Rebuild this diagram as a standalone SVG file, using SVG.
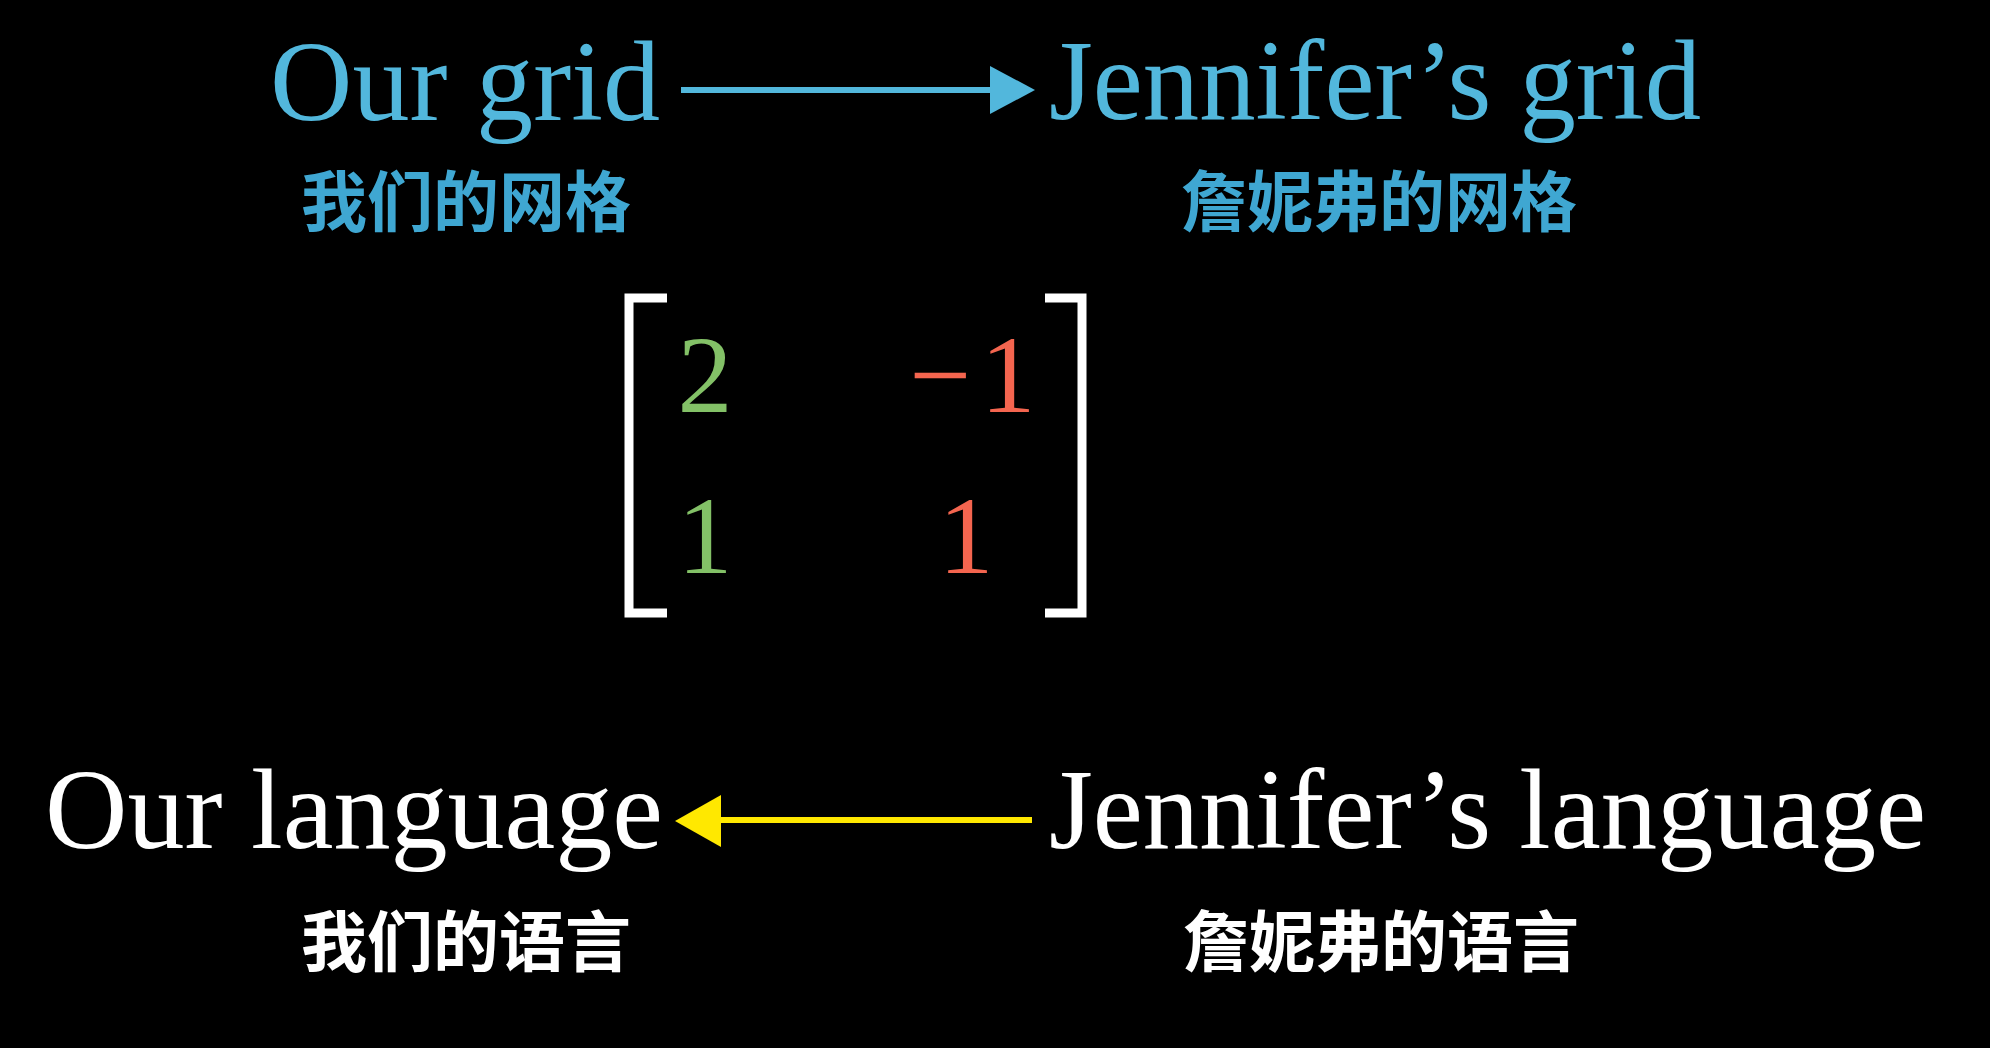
<svg xmlns="http://www.w3.org/2000/svg" width="1990" height="1048" viewBox="0 0 1990 1048">
  <style>
    .en { font-family: "Liberation Serif", "DejaVu Serif", serif; font-size: 114px; }
    .cjk { font-family: "Noto Sans CJK SC", "Noto Sans CJK TC", sans-serif; font-size: 66px; font-weight: bold; text-anchor: middle; }
    .blue { fill: #52B7DC; }
    .blueCjk { fill: #3FA7D2; }
    .white { fill: #FFFFFF; }
    .num { font-family: "Liberation Serif", "DejaVu Serif", serif; font-size: 110px; text-anchor: middle; }
    .green { fill: #83C167; }
    .red { fill: #F4654F; }
    .bracket { fill: none; stroke: #FFFFFF; stroke-width: 9; stroke-linecap: butt; stroke-linejoin: miter; }
  </style>
  <rect x="0" y="0" width="1990" height="1048" fill="#000000"/>

  <g id="our-grid">
    <text class="en blue" x="270" y="120" textLength="390" lengthAdjust="spacingAndGlyphs">Our grid</text>
    <text class="cjk blueCjk" x="466" y="226">我们的网格</text>
  </g>

  <g id="jennifers-grid">
    <text class="en blue" x="1049" y="119" textLength="652" lengthAdjust="spacingAndGlyphs">Jennifer’s grid</text>
    <text class="cjk blueCjk" x="1379" y="226">詹妮弗的网格</text>
  </g>

  <g id="matrix">
    <path class="bracket" d="M667,298 H629 V613 H667"/>
    <path class="bracket" d="M1045,298 H1082 V613 H1045"/>
    <text class="num green" x="705" y="412">2</text>
    <text class="num red" x="967" y="412"><tspan x="940">−</tspan><tspan x="1008">1</tspan></text>
    <text class="num green" x="705" y="573">1</text>
    <text class="num red" x="966" y="573">1</text>
  </g>

  <g id="our-language">
    <text class="en white" x="45" y="848" textLength="618" lengthAdjust="spacingAndGlyphs">Our language</text>
    <text class="cjk white" x="466" y="966">我们的语言</text>
  </g>

  <g id="jennifers-language">
    <text class="en white" x="1049" y="848" textLength="877" lengthAdjust="spacingAndGlyphs">Jennifer’s language</text>
    <text class="cjk white" x="1381" y="966">詹妮弗的语言</text>
  </g>

  <g id="connectors">
    <line x1="681" y1="90" x2="994" y2="90" stroke="#52B7DC" stroke-width="6"/>
    <polygon points="990,66 1035,90 990,114" fill="#52B7DC"/>
    <line x1="718" y1="820" x2="1032" y2="820" stroke="#FFE800" stroke-width="6"/>
    <polygon points="675,821 721,795 721,847" fill="#FFE800"/>
  </g>
</svg>
